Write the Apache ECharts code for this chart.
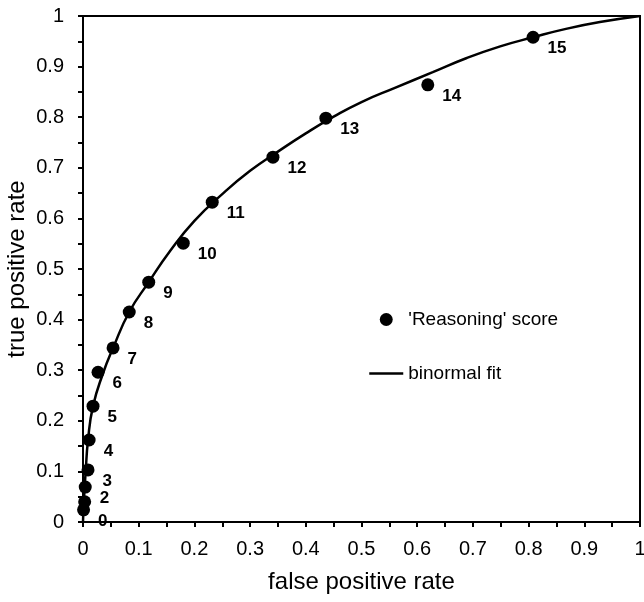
<!DOCTYPE html>
<html>
<head>
<meta charset="utf-8">
<script src="https://cdn.jsdelivr.net/npm/echarts@6/dist/echarts.min.js"></script>
<style>
html,body{margin:0;padding:0;background:#fff;}
#chart{width:644px;height:602px;}
</style>
</head>
<body>
<div id="chart"></div>
<script>
// Observed 'Reasoning' score operating points
const scoreLabels = ['0','1','2','3','4','5','6','7','8','9','10','11','12','13','14','15'];
const scoreFPR = [0.001,0.003,0.004,0.009,0.011,0.018,0.027,0.054,0.083,0.118,0.180,0.232,0.341,0.436,0.619,0.808];
const scoreTPR = [0.024,0.040,0.069,0.103,0.162,0.229,0.296,0.344,0.415,0.474,0.551,0.632,0.721,0.798,0.864,0.958];
const hiddenLabels = ['1'];

// Binormal fit curve
const fitFPR = [0,0.001,0.002,0.005,0.009,0.018,0.036,0.054,0.083,0.118,0.156,0.200,0.250,0.300,0.350,0.400,0.450,0.500,0.560,0.628,0.689,0.749,0.808,0.869,0.928,1];
const fitTPR = [0,0.030,0.050,0.103,0.162,0.229,0.294,0.344,0.415,0.474,0.535,0.595,0.648,0.694,0.732,0.768,0.801,0.830,0.858,0.889,0.917,0.940,0.958,0.975,0.988,1];

const tickValues = [0,0.1,0.2,0.3,0.4,0.5,0.6,0.7,0.8,0.9,1];

const FONT = '"Liberation Sans", Arial, sans-serif';
const chart = echarts.init(document.getElementById('chart'), null, {renderer:'canvas'});

const scatterData = scoreFPR.map((x,i)=>({
  value:[x, scoreTPR[i]],
  name: scoreLabels[i],
  label:{show: hiddenLabels.indexOf(scoreLabels[i]) < 0}
}));
const fitData = fitFPR.map((x,i)=>[x, fitTPR[i]]);

const fmt = v => {
  const r = Math.round(v*100)/100;
  return tickValues.some(t=>Math.abs(t-r)<1e-9) ? String(r) : '';
};

const axisCommon = {
  type:'value', min:0, max:1, interval:0.1,
  axisLine:{show:true, onZero:false, lineStyle:{color:'#000', width:2}},
  axisTick:{show:true, inside:false, length:5, lineStyle:{color:'#000', width:2}},
  minorTick:{show:true, splitNumber:2, length:5, lineStyle:{color:'#000', width:2}},
  splitLine:{show:false},
  axisLabel:{color:'#000', fontSize:20, fontFamily:FONT, formatter:fmt},
  nameLocation:'middle',
  nameMoveOverlap:false,
  nameTextStyle:{color:'#000', fontSize:24, fontFamily:FONT}
};

chart.setOption({
  animation:false,
  backgroundColor:'#fff',
  grid:{left:83, right:4, top:16, bottom:80, show:true, borderColor:'#000', borderWidth:2,
        containLabel:false, outerBoundsMode:'none'},
  xAxis:Object.assign({}, axisCommon, {
    name:'false positive rate', nameGap:48,
    axisLabel:Object.assign({}, axisCommon.axisLabel, {margin:17, showMaxLabel:true})
  }),
  yAxis:Object.assign({}, axisCommon, {
    name:'true positive rate', nameGap:54,
    axisLabel:Object.assign({}, axisCommon.axisLabel, {margin:19})
  }),
  legend:{
    orient:'vertical', left:363, top:305, itemWidth:34, itemHeight:13, itemGap:35,
    textStyle:{color:'#000', fontSize:19, fontFamily:FONT},
    data:[
      {name:"'Reasoning' score", icon:'circle', itemStyle:{color:'#000', opacity:1}},
      {name:'binormal fit', itemStyle:{color:'rgba(0,0,0,0)', borderWidth:0, opacity:0}, lineStyle:{color:'#000', width:2.5}}
    ]
  },
  series:[
    {
      name:'binormal fit', type:'line', data:fitData, smooth:0.5, symbol:'none',
      lineStyle:{color:'#000', width:2.5}, itemStyle:{color:'#000'}, z:2
    },
    {
      name:"'Reasoning' score", type:'scatter', data:scatterData, symbolSize:13,
      itemStyle:{color:'#000', opacity:1}, z:3,
      label:{show:true, position:'right', offset:[3,11], formatter:p=>p.name,
        color:'#000', fontSize:17, fontWeight:'bold', fontFamily:FONT}
    }
  ]
});
</script>
</body>
</html>
